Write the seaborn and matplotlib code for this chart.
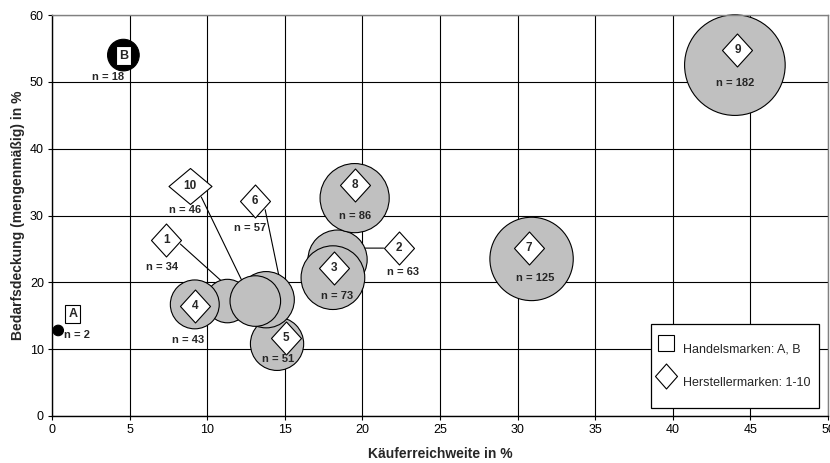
import matplotlib
matplotlib.use("Agg")
import matplotlib.pyplot as plt
from matplotlib.path import Path
from matplotlib.lines import Line2D
from matplotlib.transforms import offset_copy
import pandas as pd
import seaborn as sns

# Brands: manufacturer brands 1-10 and retail brands A, B
marken = ["1", "2", "3", "4", "5", "6", "7", "8", "9", "10", "A", "B"]
reichweite = [11.3, 18.4, 18.1, 9.2, 14.5, 13.8, 30.9, 19.5, 44.0, 13.1, 0.4, 4.6]
bedarfsdeckung = [17.2, 23.4, 20.7, 16.7, 10.8, 17.4, 23.5, 32.6, 52.5, 17.2, 12.8, 54.0]
n_werte = [34, 63, 73, 43, 51, 57, 125, 86, 182, 46, 2, 18]
typ = ["Hersteller"] * 10 + ["Handel"] * 2

x_ticks = [0, 5, 10, 15, 20, 25, 30, 35, 40, 45, 50]
y_ticks = [0, 10, 20, 30, 40, 50, 60]
legend_labels = ["Handelsmarken: A, B", "Herstellermarken: 1-10"]

df = pd.DataFrame({"marke": marken, "x": reichweite, "y": bedarfsdeckung,
                   "n": n_werte, "typ": typ})

# Callout placement in pixels relative to each bubble (right / down)
callouts = {
    "1": dict(tag=(-61, -61), n=(-65, -34), lead=((-47, -57), (3, -12))),
    "2": dict(tag=(61, -11.5), n=(65, 12), lead=((46, -11.5), (20, -11.5))),
    "3": dict(tag=(0.7, -10), n=(4, 18)),
    "4": dict(tag=(0.5, 2), n=(-7, 35.5)),
    "5": dict(tag=(9, -6), n=(1, 15)),
    "6": dict(tag=(-11, -99), n=(-16, -72), lead=((-1, -90), (16, -8))),
    "7": dict(tag=(-2.5, -11), n=(3.5, 19)),
    "8": dict(tag=(0, -13), n=(0, 18)),
    "9": dict(tag=(2.5, -15), n=(0.5, 18)),
    "10": dict(tag=(-65, -115), n=(-70, -91), lead=((-54, -104), (-4, -1))),
    "A": dict(tag=(14.5, -16.4), n=(18.7, 4.3)),
    "B": dict(tag=(0, 0.5), n=(-15.7, 21.8)),
}

sns.set_style("white")
plt.rcParams["font.family"] = ["Liberation Sans", "DejaVu Sans"]

PX = 72 / 100  # points per pixel at dpi 100
fig = plt.figure(figsize=(8.3, 4.63), dpi=100)
ax = fig.add_axes([52 / 830, 47 / 463, 776 / 830, 401 / 463])

# Bubble area proportional to n
S_MAX = (100.6 * PX) ** 2
sns.scatterplot(data=df, x="x", y="y", hue="typ", size="n",
                sizes=(0, S_MAX), size_norm=(0, 182),
                palette={"Hersteller": "#c0c0c0", "Handel": "black"},
                edgecolor="black", linewidth=0.8, legend=False,
                zorder=2, clip_on=False, ax=ax)

ax.set_xlim(0, 50)
ax.set_ylim(0, 60)
ax.set_xticks(x_ticks)
ax.set_yticks(y_ticks)
ax.tick_params(axis="both", labelsize=9, length=4 * PX, width=0.8,
               direction="out", pad=3, colors="black")
ax.tick_params(axis="both", which="both", bottom=True, left=True)
ax.grid(True, color="black", linewidth=0.8)
ax.set_axisbelow(True)
for side in ("left", "bottom"):
    ax.spines[side].set_color("black")
    ax.spines[side].set_linewidth(1.0)
for side in ("top", "right"):
    ax.spines[side].set_color("#808080")
    ax.spines[side].set_linewidth(1.0)

ax.set_xlabel("Käuferreichweite in %", fontsize=10, fontweight="bold")
ax.set_ylabel("Bedarfsdeckung (mengenmäßig) in %", fontsize=10, fontweight="bold")
ax.xaxis.set_label_coords(0.5006, -0.077)
ax.yaxis.set_label_coords(-0.0348, 0.5)


def shifted(dx, dy):
    return offset_copy(ax.transData, fig=fig, x=dx * PX, y=-dy * PX, units="points")


def diamond(w, h):
    return Path([(0, h / 2), (w / 2, 0), (0, -h / 2), (-w / 2, 0), (0, h / 2)],
                [Path.MOVETO, Path.LINETO, Path.LINETO, Path.LINETO, Path.CLOSEPOLY])


for _, row in df.iterrows():
    c = callouts[row["marke"]]
    x, y = row["x"], row["y"]
    if "lead" in c:
        start, end = c["lead"]
        ax.annotate("", xy=(x, y), xycoords=shifted(*end),
                    xytext=(x, y), textcoords=shifted(*start),
                    arrowprops=dict(arrowstyle="-", color="black", lw=0.8,
                                    shrinkA=0, shrinkB=0),
                    zorder=1.5)
    t_tag = shifted(*c["tag"])
    if row["typ"] == "Hersteller":
        w, h = (43, 36) if len(row["marke"]) > 1 else (30, 33)
        ax.plot([x], [y], marker=diamond(w, h), markersize=max(w, h) * PX,
                mfc="white", mec="black", mew=0.8, linestyle="none",
                transform=t_tag, zorder=4, clip_on=False)
        ax.text(x, y, row["marke"], transform=t_tag, ha="center", va="center",
                fontsize=8.5, fontweight="bold", zorder=5)
    else:
        ax.text(x, y, row["marke"], transform=t_tag, ha="center", va="center",
                fontsize=9, fontweight="bold", zorder=5,
                bbox=dict(boxstyle="square,pad=0.25", fc="white", ec="black", lw=0.8))
    ax.text(x, y, f"n = {row['n']}", transform=shifted(*c["n"]),
            ha="center", va="center", fontsize=8, fontweight="bold", zorder=5)

handles = [
    Line2D([], [], marker="s", markersize=11, mfc="white", mec="black",
           mew=0.8, linestyle="none"),
    Line2D([], [], marker=diamond(22, 25), markersize=25 * PX, mfc="white",
           mec="black", mew=0.8, linestyle="none"),
]
leg = ax.legend(handles, legend_labels, loc="lower right",
                bbox_to_anchor=(0.989, 0.019), borderaxespad=0,
                fontsize=9, frameon=True, fancybox=False, framealpha=1,
                borderpad=0.75, handleheight=3.69, labelspacing=0,
                handlelength=0.9, handletextpad=0.91)
leg.get_frame().set_edgecolor("black")
leg.get_frame().set_linewidth(0.9)
leg.set_zorder(6)

fig.savefig("out.png", dpi=100)
